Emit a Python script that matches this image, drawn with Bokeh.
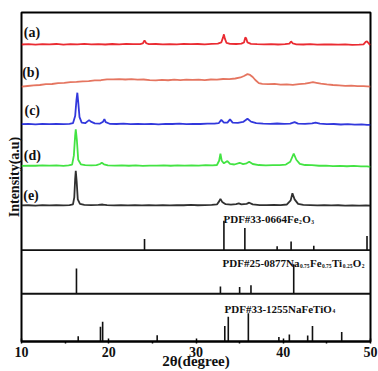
import numpy as np
from bokeh.plotting import figure
from bokeh.models import ColumnDataSource, Span, FixedTicker, Range1d, Title
from bokeh.core.properties import value
from bokeh.embed import file_html
from bokeh.resources import INLINE

# ---------------- data (2theta in degrees, intensity in arbitrary units) ----------------
curve_a = [(10, 0), (10.8, 0.4), (11.6, -0.2), (12.4, 0.3), (13.2, 0.1), (14, 0.5), (14.8, -0.1), (15.6, 0.3),
           (16.4, 0.2), (17.2, 0.6), (18, 0.1), (18.8, 0.4), (19.6, 0), (20.4, 0.5), (21.2, 0.2), (22, 0.6),
           (22.8, 0.3), (23.6, 0.4), (23.9, 1), (24.1, 4), (24.3, 1.2), (24.6, 0.3), (25.4, 0.5), (26.2, 0.1),
           (27, 0.4), (27.8, 0.2), (28.6, 0.6), (29.4, 0.3), (30.2, 0.5), (31, 0.2), (31.8, 0.6), (32.5, 0.8),
           (32.9, 2), (33.1, 7), (33.2, 10), (33.3, 6), (33.5, 1.5), (33.9, 0.6), (34.6, 0.5), (35.2, 0.8),
           (35.5, 2), (35.65, 7), (35.75, 6), (35.9, 2), (36.3, 0.6), (37, 0.3), (37.8, 0.2), (38.6, 0.4),
           (39.4, 0), (40.2, 0.3), (40.7, 0.8), (40.9, 3), (41.1, 1), (41.5, 0.2), (42.3, 0), (43.1, 0.3),
           (43.9, -0.1), (44.7, 0.2), (45.5, 0), (46.3, -0.2), (47.1, 0.1), (47.9, -0.3), (48.7, -0.1),
           (49.2, 0.2), (49.45, 2.5), (49.6, 3), (49.8, 1), (50, -0.5)]

curve_b = [(10, 0), (10.7, 0.6), (11.4, 1.2), (12.1, 1.6), (12.8, 2.4), (13.5, 2.6), (14.2, 3.4), (14.9, 3.6),
           (15.6, 4.4), (16.3, 4.6), (17, 5.2), (17.7, 5.4), (18.4, 6.1), (19.1, 6.3), (19.8, 7.1), (20.5, 7.2),
           (21.2, 7.4), (21.9, 7), (22.6, 7.3), (23.3, 6.8), (24, 7), (24.7, 6.4), (25.4, 6.2), (26.1, 6.6),
           (26.8, 6.3), (27.5, 6.8), (28.2, 6.5), (28.9, 6.9), (29.6, 6.6), (30.3, 6.9), (31, 6.5), (31.7, 7),
           (32.4, 6.8), (33.1, 7.5), (33.8, 7.3), (34.5, 8), (35.1, 9), (35.5, 10.5), (35.9, 12.3), (36.2, 11.5),
           (36.5, 9.5), (36.8, 6.5), (37.2, 3.5), (37.6, 2.8), (38.3, 2.4), (39, 2.7), (39.7, 2), (40.4, 2.3),
           (41.1, 1.7), (41.8, 2.4), (42.5, 2.9), (43, 3.8), (43.4, 4.4), (43.8, 3.8), (44.3, 3), (45, 2.2),
           (45.7, 1.6), (46.4, 1.2), (47.1, 0.7), (47.8, 0.9), (48.5, 0.4), (49.2, 0.5), (50, 0)]

curve_c = [(10, 0), (10.8, 0.3), (11.6, -0.2), (12.4, 0.4), (13.2, 0), (14, 0.3), (14.8, 0.1), (15.5, 0.4),
           (15.9, 1), (16.15, 8), (16.3, 24), (16.4, 31), (16.5, 22), (16.65, 7), (16.9, 1.5), (17.3, 1),
           (17.6, 3), (17.75, 4), (17.95, 2.5), (18.4, 0.8), (19, 0.6), (19.35, 2.5), (19.5, 5), (19.65, 2),
           (20.1, 0.4), (20.9, 0.2), (21.7, 0.5), (22.5, 0.1), (23.3, 0.4), (24.1, 0), (24.9, 0.3), (25.7, -0.1),
           (26.5, 0.3), (27.3, 0.2), (28.1, 0.5), (28.9, 0.1), (29.7, 0.4), (30.5, 0.2), (31.3, 0.6), (32.1, 0.5),
           (32.6, 1), (32.9, 4.3), (33.2, 1.5), (33.6, 1.5), (33.9, 4.7), (34.2, 1.6), (34.8, 1.4), (35.4, 2.2),
           (35.9, 5.3), (36.3, 2.5), (36.9, 1), (37.7, 0.6), (38.5, 0.4), (39.3, 0.7), (40.1, 0.3), (40.8, 0.6),
           (41.3, 2), (41.7, 0.6), (42.5, 0.4), (43.3, 0.9), (43.7, 1.6), (44.2, 0.6), (45, 0), (45.8, 0.2),
           (46.6, -0.3), (47.4, 0), (48.2, -0.4), (49, -0.2), (49.6, -0.6), (50, -0.7)]

curve_d = [(10, 0), (10.8, 0.3), (11.6, 0.1), (12.4, 0.5), (13.2, 0.2), (14, 0.4), (14.8, 0), (15.4, 0.4),
           (15.8, 1.2), (16.0, 10), (16.15, 30), (16.22, 36), (16.35, 25), (16.5, 6), (16.8, 1.5), (17.3, 0.6),
           (18, 0.4), (18.6, 0.6), (19, 1.8), (19.2, 3), (19.45, 1.5), (19.9, 0.4), (20.7, 0.2), (21.5, 0.5),
           (22.3, 0.1), (23.1, 0.4), (23.9, 0), (24.7, 0.3), (25.5, 0.2), (26.3, 0.5), (27.1, 0.1), (27.9, 0.4),
           (28.7, 0.2), (29.5, 0.5), (30.3, 0.3), (31.1, 0.6), (31.9, 0.4), (32.4, 0.8), (32.65, 5), (32.8, 12),
           (32.95, 5), (33.2, 2.5), (33.6, 4.7), (33.9, 2), (34.4, 1.3), (35, 3), (35.4, 1.6), (35.8, 2.5),
           (36.1, 4), (36.5, 1.8), (37.2, 0.8), (38, 0.5), (38.8, 0.6), (39.6, 0.7), (40.3, 1.2), (40.8, 4),
           (41.2, 12), (41.5, 6), (41.9, 2), (42.5, 0.8), (43.3, 0.6), (44.1, 0.1), (44.9, 0.3), (45.7, -0.2),
           (46.5, 0), (47.3, -0.4), (48.1, -0.1), (48.9, -0.5), (49.6, -0.6), (50, -1)]

curve_e = [(10, 0), (10.8, 0.2), (11.6, -0.1), (12.4, 0.3), (13.2, 0), (14, 0.2), (14.8, 0.1), (15.5, 0.3),
           (15.9, 1), (16.05, 8), (16.15, 26), (16.22, 34), (16.32, 24), (16.45, 6), (16.7, 1.5), (17.2, 0.6),
           (18, 0.3), (18.8, 0.5), (19.3, 0.9), (19.8, 0.3), (20.6, 0.1), (21.4, 0.4), (22.2, 0), (23, 0.3),
           (23.8, 0.1), (24.6, 0.4), (25.4, 0), (26.2, 0.3), (27, 0.1), (27.8, 0.4), (28.6, 0.2), (29.4, 0.5),
           (30.2, 0.2), (31, 0.4), (31.8, 0.5), (32.4, 1), (32.65, 4), (32.8, 6.5), (33, 3.5), (33.4, 1.2),
           (34, 0.8), (34.6, 1.3), (34.9, 2), (35.2, 1), (35.8, 1.6), (36.1, 2.7), (36.5, 1), (37.3, 0.4),
           (38.1, 0.3), (38.9, 0.5), (39.7, 0.3), (40.4, 0.9), (40.85, 5), (41.05, 12), (41.3, 6), (41.7, 1.5),
           (42.3, 0.5), (43.1, 0.3), (43.9, 0.1), (44.7, 0.3), (45.5, 0), (46.3, 0.2), (47.1, -0.1), (47.9, 0.1),
           (48.7, -0.2), (49.5, 0), (50, -0.1)]

curve_names = ["(a)", "(b)", "(c)", "(d)", "(e)"]

# reference patterns: 2theta and relative intensity (%)
pdf1_theta = [24.1, 33.2, 35.6, 39.3, 40.9, 43.5, 49.6]
pdf1_int = [38, 100, 75, 13, 29, 15, 48]
pdf2_theta = [16.3, 32.8, 35.0, 36.3, 41.2]
pdf2_int = [86, 25, 23, 29, 100]
pdf3_theta = [16.5, 19.05, 19.3, 25.55, 33.3, 33.7, 36.0, 39.5, 40.7, 42.8, 43.35, 46.7]
pdf3_int = [19, 52, 70, 22, 55, 88, 100, 16, 25, 21, 55, 34]

pdf1_label = [("PDF#33-0664Fe", False), ("2", True), ("O", False), ("3", True)]
pdf2_label = [("PDF#25-0877Na", False), ("0.75", True), ("Fe", False), ("0.75", True),
              ("Ti", False), ("0.25", True), ("O", False), ("2", True)]
pdf3_label = [("PDF#33-1255NaFeTiO", False), ("4", True)]

x_ticks = [10, 20, 30, 40, 50]
x_minor = [15, 25, 35, 45]

# ---------------- layout / style ----------------
W, H = 378, 371
ML, MR, MT = 21, 8, 12
FRAME_W = W - ML - MR
FONT = "Liberation Serif"

curve_colors = ["#e8141c", "#e2664f", "#1c22d8", "#2fe02f", "#1a1a1a"]
curve_offsets = [292.5, 251, 214, 173, 134]
label_pos = [(10.26, 304.3), (10.08, 265.3), (10.34, 227.7), (10.26, 183.3), (10.2, 143.7)]
pdf_bases = [90, 47, 0]
pdf_scales = [0.29, 0.29, 0.277]
pdf_label_pos = [(33.15, 120.4), (33.04, 76.9), (33.27, 32.4)]

p = figure(width=W, height=H, x_range=Range1d(10, 50), y_range=Range1d(0, 324),
           y_axis_location=None, toolbar_location=None, output_backend="svg",
           min_border_left=ML, min_border_right=MR, min_border_top=MT, min_border_bottom=0)
p.grid.visible = False
p.outline_line_color = "black"
p.outline_line_width = 2
p.background_fill_color = "white"
p.border_fill_color = "white"

xa = p.xaxis[0]
xa.ticker = FixedTicker(ticks=x_ticks, minor_ticks=x_minor)
xa.axis_line_width = 2
xa.major_tick_in = 3
xa.major_tick_out = 2
xa.major_tick_line_width = 1.5
xa.minor_tick_in = 0
xa.minor_tick_out = 2
xa.minor_tick_line_width = 1.5
xa.major_label_text_font = FONT
xa.major_label_text_font_style = "bold"
xa.major_label_text_font_size = "14px"
xa.major_label_text_color = "#111111"
xa.major_label_standoff = 3
xa.axis_label = "2θ(degree)"
xa.axis_label_text_font = FONT
xa.axis_label_text_font_style = "bold"
xa.axis_label_text_font_size = "15px"
xa.axis_label_text_color = "#111111"
xa.axis_label_standoff = -7

p.add_layout(Title(text="Intensity(a.u)", align="center", offset=22, standoff=0,
                   text_font=FONT, text_font_style="bold", text_font_size="14px",
                   text_color="#111111"), "left")

# experimental curves
for pts, col, off, name, (lx, ly) in zip([curve_a, curve_b, curve_c, curve_d, curve_e],
                                         curve_colors, curve_offsets, curve_names, label_pos):
    xs = [t for t, _ in pts]
    ys = [off + v for _, v in pts]
    p.line(xs, ys, line_color=col, line_width=1.8, line_alpha=0.9)
    p.text(x=[lx], y=[ly], text=[name], text_font=value(FONT), text_font_style="bold",
           text_font_size="14px", text_color="#111111", text_align="left", text_baseline="middle")

# reference stick patterns
for th, it, base, sc in zip([pdf1_theta, pdf2_theta, pdf3_theta], [pdf1_int, pdf2_int, pdf3_int],
                            pdf_bases, pdf_scales):
    src = ColumnDataSource(dict(x=th, y0=[base] * len(th), y1=[base + v * sc for v in it]))
    p.segment(x0="x", y0="y0", x1="x", y1="y1", source=src, line_color="#111111", line_width=1.6)

for base in pdf_bases[:2]:
    p.add_layout(Span(location=base, dimension="width", line_color="#111111", line_width=1.8))

# rich labels with subscripts (Times-metric advance widths, em units)
ADV = {"P": .611, "D": .722, "F": .611, "#": .5, "-": .333, "N": .722, "a": .5, "e": .444,
       "T": .667, "i": .278, "O": .778, ".": .25}
px_per_unit = FRAME_W / 40.0


def draw_rich(segs, x0, y0, size=11, sub_size=5.5, drop=2.5):
    x = x0
    for txt, sub in segs:
        fs = sub_size if sub else size
        p.text(x=[x], y=[y0 - (drop if sub else 0)], text=[txt], text_font=value(FONT),
               text_font_style="bold", text_font_size=f"{fs}px", text_color="#111111",
               text_align="left", text_baseline="alphabetic")
        w = sum(ADV.get(c, 0.5) for c in txt) * fs
        x += (w + 0.4) / px_per_unit


for segs, (lx, ly) in zip([pdf1_label, pdf2_label, pdf3_label], pdf_label_pos):
    draw_rich(segs, lx, ly)

open("out.html", "w").write(file_html(p, INLINE))
